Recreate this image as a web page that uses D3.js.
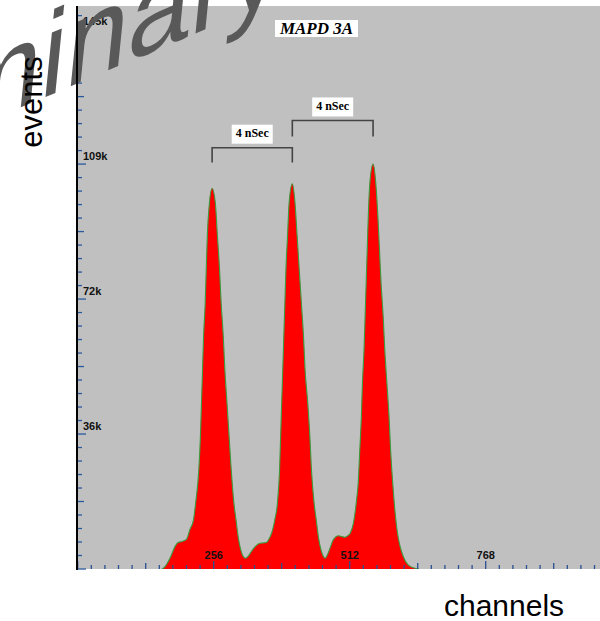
<!DOCTYPE html>
<html>
<head>
<meta charset="utf-8">
<script src="https://cdn.jsdelivr.net/npm/d3@7"></script>
<style>
  html, body { margin: 0; padding: 0; background: #ffffff; }
  svg { display: block; }
</style>
</head>
<body>
<svg id="chart" width="600" height="621"></svg>
<script>
// MCA spectrum of the MAPD 3A: three timing peaks, 4 ns apart
const channel = [
  159, 164, 175, 183, 189, 197, 205, 211, 218, 222, 228, 231, 233, 235, 237, 240, 242, 244, 248, 253,
  259, 263, 267, 270, 274, 277, 281, 285, 289, 294, 298, 302, 307, 311, 316,
  322, 326, 334, 343, 350, 356, 361, 365, 371, 376, 380, 382, 384, 386, 388, 390, 392, 395, 398, 404,
  409, 413, 417, 421, 425, 428, 433, 437, 440, 445, 449, 453, 458, 462, 466,
  470, 475, 481, 491, 497, 503, 508, 513, 519, 525, 528, 531, 534, 536, 539, 541, 543, 545, 547, 550, 556,
  561, 565, 568, 571, 575, 578, 582, 586, 589, 593, 597, 602, 607, 613, 622, 635, 642
];
const events = [
  0, 600, 3300, 6000, 7100, 7400, 8000, 10500, 13200, 17700, 26600, 35600, 44600, 53500, 62500, 71400, 80400, 89400, 98300, 102100,
  98300, 89400, 80400, 71400, 62500, 53500, 44600, 35600, 26600, 17700, 13200, 8700, 5100, 3500, 2900,
  3600, 4500, 6000, 6900, 7000, 7200, 8300, 9600, 13200, 17700, 26600, 35600, 44600, 53500, 62500, 71400, 80400, 89400, 98300, 103300,
  98300, 89400, 80400, 71400, 62500, 53500, 44600, 35600, 26600, 17700, 13200, 8700, 5100, 3500, 2900,
  3800, 5600, 7800, 8900, 8700, 8500, 8900, 9600, 12300, 18600, 23000, 32000, 41000, 49900, 58900, 67800, 76800, 85800, 94700, 103700, 108600,
  103700, 94700, 85800, 76800, 67800, 58900, 49900, 41000, 32000, 23000, 15900, 9600, 6000, 3300, 1100, 200, 0
];

// axis labels
const xTickValues = [256, 512, 768];
const xTickLabels = ["256", "512", "768"];
const yTickValues = [36200, 72400, 108600, 144800];
const yTickLabels = ["36k", "72k", "109k", "145k"];

// peak-to-peak annotations: [from channel, to channel, leg bottom, bar level]
const bracketFrom = [253, 404];
const bracketTo = [404, 556];
const bracketLow = [109000, 116000];
const bracketHigh = [113000, 120300];
const bracketText = ["4 nSec", "4 nSec"];

const svg = d3.select("#chart");
const plotLeft = 77, plotRight = 600, plotTop = 6, plotBottom = 569;

const x = d3.scaleLinear().domain([0, 1024]).range([77.7, 621.7]);
const y = d3.scaleLinear().domain([0, 151000]).range([plotBottom, plotTop]);

svg.append("defs").append("clipPath").attr("id", "plotclip")
  .append("rect").attr("x", plotLeft).attr("y", plotTop)
  .attr("width", plotRight - plotLeft).attr("height", plotBottom - plotTop);

svg.append("rect")
  .attr("x", plotLeft).attr("y", plotTop)
  .attr("width", plotRight - plotLeft).attr("height", plotBottom - plotTop)
  .attr("fill", "#c0c0c0");

const data = channel.map((c, i) => ({ c, v: events[i] }));
const area = d3.area()
  .x(d => x(d.c)).y0(y(0)).y1(d => y(d.v))
  .curve(d3.curveMonotoneX);
const line = d3.line().x(d => x(d.c)).y(d => y(d.v)).curve(d3.curveMonotoneX);

const g = svg.append("g").attr("clip-path", "url(#plotclip)");
g.append("path").datum(data).attr("d", area).attr("fill", "#ff0000");
g.append("path").datum(data).attr("d", line)
  .attr("fill", "none").attr("stroke", "#3c9a3c").attr("stroke-width", 1.1);

// x ticks: ten subdivisions per 256 channels
const xt = g.append("g");
d3.range(0, 41).forEach(i => {
  const c = i * 25.6;
  const len = i % 10 === 0 ? 8 : (i % 5 === 0 ? 6 : 4);
  xt.append("line")
    .attr("x1", x(c)).attr("x2", x(c))
    .attr("y1", plotBottom).attr("y2", plotBottom - len)
    .attr("stroke", "#2a4f93").attr("stroke-width", 1.3);
});
xTickValues.forEach((v, i) => {
  svg.append("text")
    .attr("x", x(v)).attr("y", 559)
    .attr("text-anchor", "middle")
    .attr("font-family", "Liberation Sans, Arial, sans-serif")
    .attr("font-weight", "bold").attr("font-size", 11)
    .attr("fill", "#111")
    .text(xTickLabels[i]);
});

// y ticks: ten subdivisions per labelled step
const yStep = yTickValues[0] / 10;
d3.range(0, 42).forEach(i => {
  const v = i * yStep;
  if (y(v) < plotTop) return;
  const len = i % 10 === 0 ? 8 : (i % 5 === 0 ? 6 : 4);
  svg.append("line")
    .attr("x1", plotLeft).attr("x2", plotLeft + 1 + len)
    .attr("y1", y(v)).attr("y2", y(v))
    .attr("stroke", "#2a5a9e").attr("stroke-width", 1.3);
});
yTickValues.forEach((v, i) => {
  svg.append("text")
    .attr("x", 83).attr("y", y(v) - 4.5)
    .attr("font-family", "Liberation Sans, Arial, sans-serif")
    .attr("font-weight", "bold").attr("font-size", 11)
    .attr("fill", "#111")
    .text(yTickLabels[i]);
});

// brackets between neighbouring peaks
bracketFrom.forEach((c0, i) => {
  const x0 = x(c0), x1 = x(bracketTo[i]);
  const yl = y(bracketLow[i]), yh = y(bracketHigh[i]);
  svg.append("path")
    .attr("d", `M${x0},${yl}V${yh}H${x1}V${yl}`)
    .attr("fill", "none").attr("stroke", "#444").attr("stroke-width", 1.6);
  const cx = (x0 + x1) / 2;
  svg.append("rect")
    .attr("x", cx - 20.5).attr("y", yh - 23)
    .attr("width", 41).attr("height", 19)
    .attr("fill", "#ffffff");
  svg.append("text")
    .attr("x", cx).attr("y", yh - 10.5)
    .attr("text-anchor", "middle")
    .attr("font-family", "Liberation Serif, Times New Roman, serif")
    .attr("font-weight", "bold").attr("font-size", 12)
    .attr("fill", "#000")
    .text(bracketText[i]);
});

// detector name
svg.append("rect").attr("x", 275).attr("y", 20).attr("width", 83).attr("height", 17).attr("fill", "#ffffff");
svg.append("text")
  .attr("x", 316.5).attr("y", 34)
  .attr("text-anchor", "middle")
  .attr("font-family", "Liberation Serif, Times New Roman, serif")
  .attr("font-weight", "bold").attr("font-style", "italic").attr("font-size", 17)
  .attr("fill", "#000")
  .text("MAPD 3A");

// watermark
svg.append("text")
  .attr("transform", "matrix(0.92,-0.39,-0.1,1,-280,235)")
  .attr("font-family", "Liberation Sans, Arial, sans-serif")
  .attr("font-size", 122)
  .attr("fill", "#595959")
  .text("Preliminary");

// left axis line
svg.append("line")
  .attr("x1", plotLeft).attr("x2", plotLeft)
  .attr("y1", plotTop).attr("y2", plotBottom + 1)
  .attr("stroke", "#000").attr("stroke-width", 2);

// axis titles
svg.append("text")
  .attr("transform", "translate(42,102) rotate(-90)")
  .attr("text-anchor", "middle")
  .attr("font-family", "Liberation Sans, Arial, sans-serif")
  .attr("font-size", 31)
  .attr("fill", "#000")
  .text("events");
svg.append("text")
  .attr("x", 504).attr("y", 616)
  .attr("text-anchor", "middle")
  .attr("font-family", "Liberation Sans, Arial, sans-serif")
  .attr("font-size", 30)
  .attr("fill", "#000")
  .text("channels");
</script>
</body>
</html>
